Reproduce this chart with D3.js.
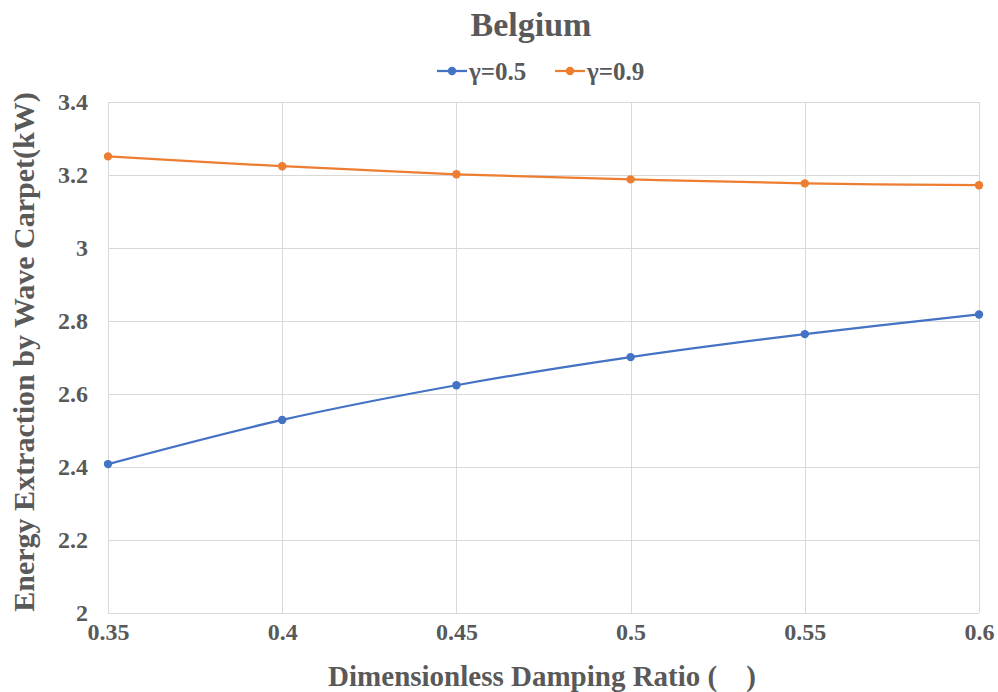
<!DOCTYPE html>
<html>
<head>
<meta charset="utf-8">
<script src="https://cdn.jsdelivr.net/npm/d3@7"></script>
<style>
  html, body { margin: 0; padding: 0; background: #fff; }
  svg { display: block; }
  text { font-family: "Liberation Serif", "Times New Roman", serif; font-weight: bold; fill: #595959; }
</style>
</head>
<body>
<script>
// Damping ratio on the x axis
const dampingRatio = [0.35, 0.4, 0.45, 0.5, 0.55, 0.6];
// Energy extraction (kW) for each gamma value
const gamma05 = [2.408, 2.529, 2.624, 2.701, 2.764, 2.818];
const gamma09 = [3.251, 3.224, 3.202, 3.188, 3.177, 3.172];
const seriesNames = ["γ=0.5", "γ=0.9"];
const seriesColors = ["#4472C4", "#ED7D31"];
const yTicks = [2, 2.2, 2.4, 2.6, 2.8, 3, 3.2, 3.4];
const xTicks = [0.35, 0.4, 0.45, 0.5, 0.55, 0.6];

const W = 998, H = 692;
const plot = { left: 108, right: 979, top: 102, bottom: 613 };
const FONT = '"Liberation Serif", "Times New Roman", serif';

const svg = d3.select("body").append("svg").attr("width", W).attr("height", H);

const x = d3.scaleLinear().domain([0.35, 0.6]).range([plot.left, plot.right]);
const y = d3.scaleLinear().domain([2, 3.4]).range([plot.bottom, plot.top]);

// Gridlines
const grid = svg.append("g").attr("stroke", "#d9d9d9").attr("stroke-width", 1);
grid.selectAll("line.h").data(yTicks).join("line")
  .attr("x1", plot.left).attr("x2", plot.right)
  .attr("y1", d => Math.round(y(d)) + 0.5).attr("y2", d => Math.round(y(d)) + 0.5);
grid.selectAll("line.v").data(xTicks).join("line")
  .attr("y1", plot.top).attr("y2", plot.bottom)
  .attr("x1", d => Math.round(x(d)) + 0.5).attr("x2", d => Math.round(x(d)) + 0.5);

// Axes (labels only)
const yAxis = svg.append("g").attr("transform", `translate(${plot.left},0)`)
  .call(d3.axisLeft(y).tickValues(yTicks).tickFormat(d3.format("~g")).tickSize(0).tickPadding(20));
yAxis.select(".domain").remove();
yAxis.selectAll("text").attr("font-size", 24).attr("fill", "#595959")
  .style("font-family", FONT).style("font-weight", "bold");

const xAxis = svg.append("g").attr("transform", `translate(0,${plot.bottom})`)
  .call(d3.axisBottom(x).tickValues(xTicks).tickFormat(d3.format("~g")).tickSize(0).tickPadding(10));
xAxis.select(".domain").remove();
xAxis.selectAll("text").attr("font-size", 24).attr("fill", "#595959")
  .style("font-family", FONT).style("font-weight", "bold");

// Series
const series = [gamma05, gamma09];
const line = d3.line()
  .x((d, i) => x(dampingRatio[i]))
  .y(d => y(d))
  .curve(d3.curveCatmullRom.alpha(0.5));

series.forEach((vals, s) => {
  svg.append("path").datum(vals)
    .attr("fill", "none")
    .attr("stroke", seriesColors[s])
    .attr("stroke-width", 2.25)
    .attr("stroke-linecap", "round")
    .attr("d", line);
  svg.append("g").selectAll("circle").data(vals).join("circle")
    .attr("cx", (d, i) => x(dampingRatio[i]))
    .attr("cy", d => y(d))
    .attr("r", 4.2)
    .attr("fill", seriesColors[s]);
});

// Title
svg.append("text").attr("x", 531).attr("y", 36).attr("text-anchor", "middle")
  .attr("font-size", 34).text("Belgium");

// Legend
const legendItems = [{ x: 437 }, { x: 555 }];
legendItems.forEach((it, s) => {
  const g = svg.append("g").attr("transform", `translate(${it.x},71)`);
  g.append("line").attr("x1", 0).attr("x2", 30).attr("y1", 0).attr("y2", 0)
    .attr("stroke", seriesColors[s]).attr("stroke-width", 2.25);
  g.append("circle").attr("cx", 15).attr("cy", 0).attr("r", 4.2).attr("fill", seriesColors[s]);
  g.append("text").attr("x", 32).attr("y", 9).attr("font-size", 25).text(seriesNames[s]);
});

// Axis titles
svg.append("text").attr("x", 542).attr("y", 686).attr("text-anchor", "middle")
  .attr("font-size", 29).text("Dimensionless Damping Ratio (\u2002\u2002)");

svg.append("text").attr("transform", "translate(34,352) rotate(-90)")
  .attr("text-anchor", "middle").attr("font-size", 30)
  .text("Energy Extraction by Wave Carpet(kW)");
</script>
</body>
</html>
